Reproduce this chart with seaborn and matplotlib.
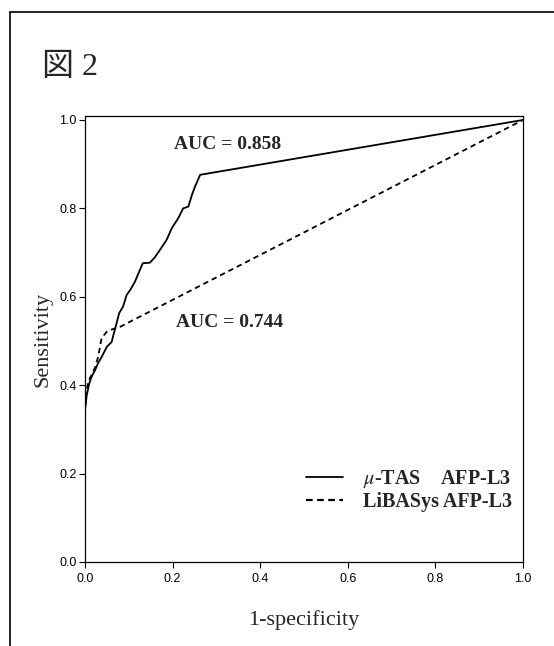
import numpy as np
import pandas as pd
import matplotlib
matplotlib.use("Agg")
import matplotlib.pyplot as plt
from matplotlib.lines import Line2D
import seaborn as sns

# Datos (curvas ROC)
mutas_fpr = [0.0, 0.0, 0.002, 0.004, 0.01, 0.015, 0.023, 0.03, 0.038, 0.05,
             0.061, 0.066, 0.072, 0.078, 0.087, 0.095, 0.103, 0.114, 0.122,
             0.132, 0.148, 0.16, 0.171, 0.186, 0.198, 0.213, 0.224, 0.236,
             0.244, 0.251, 0.263, 1.0]
mutas_tpr = [0.335, 0.344, 0.36, 0.378, 0.405, 0.419, 0.434, 0.45, 0.464, 0.487,
             0.498, 0.518, 0.54, 0.563, 0.578, 0.604, 0.615, 0.634, 0.653,
             0.676, 0.677, 0.69, 0.706, 0.728, 0.755, 0.778, 0.8, 0.804,
             0.83, 0.849, 0.876, 1.0]

libas_fpr = [0.0, 0.004, 0.008, 0.015, 0.023, 0.03, 0.038, 0.05, 0.058, 0.08, 1.0]
libas_tpr = [0.35, 0.39, 0.41, 0.423, 0.44, 0.464, 0.507, 0.521, 0.525, 0.532, 1.0]

series_labels = ["$\\mu$-TAS    AFP-L3", "LiBASys AFP-L3"]
auc_labels = ["AUC = 0.858", "AUC = 0.744"]
ticks = [0.0, 0.2, 0.4, 0.6, 0.8, 1.0]

sns.set_style("ticks")
plt.rcParams["font.family"] = ["Liberation Serif", "Noto Sans CJK JP"]
plt.rcParams["mathtext.fontset"] = "stix"

fig = plt.figure(figsize=(5.54, 6.46), dpi=100)
ax = fig.add_axes([85 / 554, 84 / 646, 438 / 554, 446 / 646])

df_mu = pd.DataFrame({"fpr": mutas_fpr, "tpr": mutas_tpr})
df_li = pd.DataFrame({"fpr": libas_fpr, "tpr": libas_tpr})

sns.lineplot(data=df_mu, x="fpr", y="tpr", ax=ax, color="black", lw=1.3,
             sort=False, estimator=None)
sns.lineplot(data=df_li, x="fpr", y="tpr", ax=ax, color="black", lw=1.3,
             sort=False, estimator=None, dashes=False)
ax.lines[-1].set_dashes([3, 2.2])

ax.set_xlim(0, 1)
ax.set_ylim(0, 1.009)
ax.set_xticks(ticks)
ax.set_yticks(ticks)
ax.set_xticklabels([f"{t:.1f}" for t in ticks], family="Liberation Sans", fontsize=9)
ax.set_yticklabels([f"{t:.1f}" for t in ticks], family="Liberation Sans", fontsize=9)
ax.tick_params(direction="out", length=4, width=0.8, pad=2, colors="black")
ax.tick_params(axis="x", pad=4)
for s in ax.spines.values():
    s.set_visible(True)
    s.set_linewidth(0.9)
    s.set_color("black")

ax.set_xlabel("1-specificity", fontsize=16, labelpad=18)
ax.set_ylabel("Sensitivity", fontsize=16, labelpad=5)

# Anotaciones AUC
ax.text(0.326, 0.945, auc_labels[0], fontsize=14, fontweight="bold",
        ha="center", va="center")
ax.text(0.329, 0.541, auc_labels[1], fontsize=14, fontweight="bold",
        ha="center", va="center")

handles = [Line2D([], [], color="black", lw=1.3),
           Line2D([], [], color="black", lw=1.6, dashes=[3, 2])]
leg = ax.legend(handles, series_labels, loc="lower right",
                bbox_to_anchor=(1.016, 0.071), frameon=False,
                prop={"family": "Liberation Serif", "weight": "bold", "size": 14.5},
                handlelength=1.8, handletextpad=1.0, labelspacing=0.1)

# Marco exterior y título
fig.add_artist(Line2D([10 / 554, 1.0], [1 - 12 / 646, 1 - 12 / 646],
                      color="black", lw=1.2))
fig.add_artist(Line2D([10 / 554, 10 / 554], [0.0, 1 - 12 / 646],
                      color="black", lw=1.2))
fig.text(42 / 554, 1 - 67 / 646, "図 2", fontsize=23, va="center", ha="left",
         family=["Liberation Serif", "Noto Sans CJK JP"])

fig.savefig("out.png", dpi=100, facecolor="white")
